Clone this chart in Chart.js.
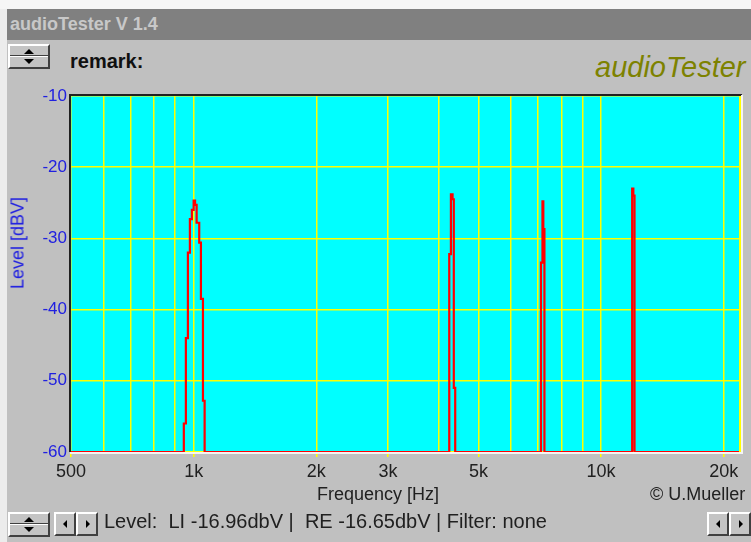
<!DOCTYPE html>
<html>
<head>
<meta charset="utf-8">
<script src="https://cdn.jsdelivr.net/npm/chart.js@4.4.1/dist/chart.umd.min.js"></script>
<style>
  body { margin: 0; width: 751px; height: 542px; background: #c0c0c0; position: relative; overflow: hidden;
         font-family: "Liberation Sans", Arial, sans-serif; }
  #chart { position: absolute; left: 0; top: 0; }
  .abs { position: absolute; white-space: pre; }
  #topstrip { left: 0; top: 0; width: 751px; height: 9px; background: #f6f6f6; }
  #leftstrip { left: 0; top: 9px; width: 7px; height: 533px; background: #ececec; }
  #titlebar { left: 7px; top: 9px; width: 744px; height: 31px; background: #808080; color: #c8c8c8;
              font-weight: bold; font-size: 18px; line-height: 31px; padding-left: 3px; box-sizing: border-box; }
  #remark { left: 70px; top: 50px; font-size: 20px; font-weight: bold; color: #101010; }
  #logo { left: 595px; top: 51px; font-size: 29px; font-style: italic; color: #7d8200; }
  #ytitle { left: 18px; top: 243px; font-size: 18px; color: #2020e0; transform: translate(-50%, -50%) rotate(-90deg); }
  #xtitle { left: 378px; top: 494px; font-size: 18px; color: #202020; transform: translate(-50%, -50%); }
  #copy { left: 650px; top: 484px; font-size: 18px; color: #202020; }
  #status { left: 104px; top: 510px; font-size: 20px; color: #202020; }
  .btn { position: absolute; box-sizing: border-box; background: #c4c4c4;
         border: 2px solid; border-color: #ffffff #404040 #404040 #ffffff; }
  .tri { position: absolute; width: 0; height: 0; }
  .up { border-left: 5px solid transparent; border-right: 5px solid transparent; border-bottom: 5px solid #000; }
  .dn { border-left: 5px solid transparent; border-right: 5px solid transparent; border-top: 5px solid #000; }
  .lt { border-top: 4px solid transparent; border-bottom: 4px solid transparent; border-right: 4px solid #000; }
  .rt { border-top: 4px solid transparent; border-bottom: 4px solid transparent; border-left: 4px solid #000; }
  .mid { position: absolute; left: 0; right: 0; height: 0; border-top: 1px solid #404040; border-bottom: 1px solid #fff; }
</style>
</head>
<body>
<div class="abs" id="topstrip"></div>
<div class="abs" id="leftstrip"></div>
<div class="abs" id="titlebar">audioTester V 1.4</div>

<div class="btn" style="left:8px;top:44px;width:42px;height:25px;">
  <div class="tri up" style="left:14px;top:3px;"></div>
  <div class="mid" style="top:9px;"></div>
  <div class="tri dn" style="left:14px;top:13px;"></div>
</div>
<div class="abs" id="remark">remark:</div>
<div class="abs" id="logo">audioTester</div>

<canvas id="chart" width="751" height="542"></canvas>

<div class="abs" id="ytitle">Level [dBV]</div>
<div class="abs" id="xtitle">Frequency [Hz]</div>
<div class="abs" id="copy">© U.Mueller</div>

<div class="btn" style="left:8px;top:512px;width:42px;height:25px;">
  <div class="tri up" style="left:14px;top:3px;"></div>
  <div class="mid" style="top:9px;"></div>
  <div class="tri dn" style="left:14px;top:13px;"></div>
</div>
<div class="btn" style="left:54px;top:512px;width:22px;height:24px;"><div class="tri lt" style="left:7px;top:6px;"></div></div>
<div class="btn" style="left:76px;top:512px;width:22px;height:24px;"><div class="tri rt" style="left:8px;top:6px;"></div></div>
<div class="abs" id="status">Level:  LI -16.96dbV |  RE -16.65dbV | Filter: none</div>
<div class="btn" style="left:707px;top:512px;width:22px;height:24px;"><div class="tri lt" style="left:7px;top:6px;"></div></div>
<div class="btn" style="left:729px;top:512px;width:22px;height:24px;"><div class="tri rt" style="left:8px;top:6px;"></div></div>

<script>
// spectrum trace: each point = level (dBV) from that frequency (Hz) onward
const traceFreq = [500, 946, 957, 968, 979, 990, 1000, 1008, 1017, 1032, 1042, 1054, 1064,
                   4240, 4280, 4320, 4350, 4385,
                   7120, 7180, 7215, 7260,
                   11920, 12000, 12080, 22050];
const traceLevel = [-60, -56, -44, -32, -27.3, -26, -24.7, -25.3, -27.8, -30.6, -38.5, -52.8, -60,
                    -32.2, -23.8, -24.5, -51, -60,
                    -33.4, -24.8, -28.7, -60,
                    -23.0, -24.0, -60, -60];

const gridFreqs = [500, 600, 700, 800, 900, 1000, 2000, 3000, 4000, 5000, 6000, 7000, 8000, 9000, 10000, 20000];
const labelFreqs = [500, 1000, 2000, 3000, 5000, 10000, 20000];
const labelText = ["500", "1k", "2k", "3k", "5k", "10k", "20k"];
const levelTicks = [-10, -20, -30, -40, -50, -60];

const freqMin = 500;
const freqMax = 22050;

const points = traceFreq.map((f, i) => ({ x: f, y: traceLevel[i] }));

const plotFrame = {
  id: "plotFrame",
  beforeDraw(chart) {
    const a = chart.chartArea;
    const ctx = chart.ctx;
    ctx.save();
    ctx.fillStyle = "#00ffff";
    ctx.fillRect(a.left, a.top, a.right - a.left, a.bottom - a.top);
    ctx.restore();
  },
  afterDraw(chart) {
    const a = chart.chartArea;
    const ctx = chart.ctx;
    ctx.save();
    ctx.lineWidth = 2;
    ctx.strokeStyle = "#ffff00";
    ctx.beginPath();
    ctx.moveTo(a.right - 1, a.top);
    ctx.lineTo(a.right - 1, a.bottom);
    ctx.stroke();
    ctx.strokeStyle = "#202020";
    ctx.beginPath();
    ctx.moveTo(a.left - 1, a.bottom);
    ctx.lineTo(a.left - 1, a.top - 1);
    ctx.lineTo(a.right + 1, a.top - 1);
    ctx.stroke();
    ctx.strokeStyle = "#f4f4f4";
    ctx.beginPath();
    ctx.moveTo(a.right + 1, a.top - 1);
    ctx.lineTo(a.right + 1, a.bottom + 1);
    ctx.lineTo(a.left - 1, a.bottom + 1);
    ctx.stroke();
    ctx.restore();
  }
};

new Chart(document.getElementById("chart"), {
  type: "line",
  data: {
    datasets: [{
      data: points,
      stepped: true,
      borderColor: "#ff0000",
      borderWidth: 2.2,
      pointRadius: 0,
      fill: false
    }]
  },
  options: {
    responsive: false,
    animation: false,
    layout: { padding: { top: 96, right: 10, left: 0, bottom: 60 } },
    plugins: { legend: { display: false }, tooltip: { enabled: false } },
    scales: {
      x: {
        type: "logarithmic",
        min: freqMin,
        max: freqMax,
        afterFit: s => { s.height = 30; },
        afterBuildTicks: s => { s.ticks = gridFreqs.map(v => ({ value: v })); },
        border: { display: false },
        grid: {
          color: "#ffff00",
          lineWidth: 1.5,
          tickLength: 5,
          tickColor: c => labelFreqs.includes(c.tick && c.tick.value) ? "#ffff00" : "rgba(0,0,0,0)"
        },
        ticks: {
          autoSkip: false,
          maxRotation: 0,
          padding: 4,
          color: "#202020",
          font: { family: "Liberation Sans, Arial, sans-serif", size: 18 },
          callback: v => {
            const i = labelFreqs.indexOf(v);
            return i >= 0 ? labelText[i] : "";
          }
        }
      },
      y: {
        min: -60,
        max: -10,
        afterFit: s => { s.width = 71; },
        afterBuildTicks: s => { s.ticks = levelTicks.map(v => ({ value: v })); },
        border: { display: false },
        grid: { color: "#ffff00", lineWidth: 1.5, drawTicks: false },
        ticks: {
          padding: 4,
          color: "#2020e0",
          font: { family: "Liberation Sans, Arial, sans-serif", size: 17 }
        }
      }
    }
  },
  plugins: [plotFrame]
});
</script>
</body>
</html>
